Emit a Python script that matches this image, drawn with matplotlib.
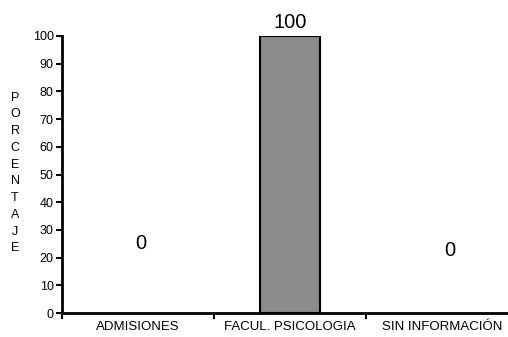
import matplotlib
matplotlib.use("Agg")
import matplotlib.pyplot as plt

categories = ["ADMISIONES", "FACUL. PSICOLOGIA", "SIN INFORMACIÓN"]
values = [0, 100, 0]
label_y = [25, 100, 22.5]
yticks = list(range(0, 101, 10))

plt.rcParams['font.family'] = ['Liberation Sans', 'DejaVu Sans']

W, H = 508, 337
fig = plt.figure(figsize=(W/100, H/100), dpi=100)
left, right, bottom, top = 62, 508, 313, 36
ax = fig.add_axes([left/W, 1 - bottom/H, (right-left)/W, (bottom-top)/H])

xs = list(range(len(categories)))
lws = [1.5 if v > 0 else 0 for v in values]
ax.bar(xs, values, width=0.395, color="#8c8c8c", edgecolor="black", linewidth=lws, zorder=3)

ax.set_xlim(-0.5, -0.5 + (right-left)/152)
ax.set_ylim(0, 100)
ax.set_yticks(yticks)
ax.set_yticklabels([str(t) for t in yticks], fontsize=9)
ax.set_xticks([-0.5, 0.5, 1.5])
ax.set_xticklabels([])
ax.tick_params(axis='y', direction='out', length=4, width=1.5, pad=2)
ax.tick_params(axis='x', direction='out', length=4, width=1.5)
for x, c in zip(xs, categories):
    ax.text(x, -5.0, c, ha='center', va='center', fontsize=9.5, clip_on=False)

for s in ['top', 'right']:
    ax.spines[s].set_visible(False)
for s in ['left', 'bottom']:
    ax.spines[s].set_linewidth(2)

offs = [0.02, 0, 0.05]
for x, v, ly, o in zip(xs, values, label_y, offs):
    if v >= 100:
        ax.text(x + o, ly + 1.6, str(v), ha='center', va='bottom', fontsize=14.5)
    else:
        ax.text(x + o, ly, str(v), ha='center', va='center', fontsize=14.5)

fig.text(15/W, 1 - 173/H, "\n".join("PORCENTAJE"), ha='center', va='center',
         fontsize=9, linespacing=1.53)

fig.savefig("out.png", dpi=100)
